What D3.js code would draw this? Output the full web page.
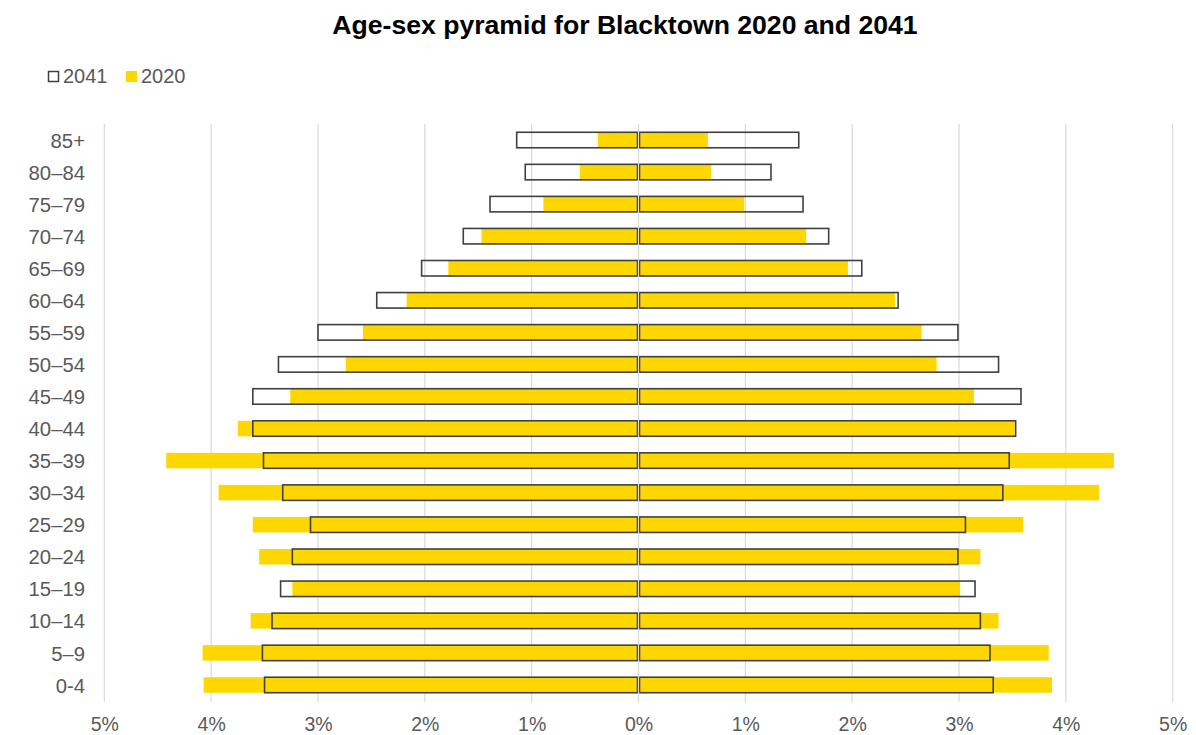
<!DOCTYPE html>
<html>
<head>
<meta charset="utf-8">
<script src="https://cdn.jsdelivr.net/npm/d3@7"></script>
<style>
  html, body { margin: 0; padding: 0; background: #ffffff; }
  svg { display: block; font-family: "Liberation Sans", Arial, sans-serif; }
</style>
</head>
<body>
<svg id="chart" width="1196" height="735"></svg>
<script>
// Age groups, bottom to top
const ageGroups = ["0-4", "5–9", "10–14", "15–19", "20–24", "25–29", "30–34", "35–39", "40–44",
                   "45–49", "50–54", "55–59", "60–64", "65–69", "70–74", "75–79", "80–84", "85+"];
// Left side (percent of population)
const left2020 = [4.07, 4.08, 3.63, 3.24, 3.55, 3.61, 3.93, 4.42, 3.75, 3.26, 2.74, 2.58, 2.17, 1.78, 1.47, 0.89, 0.55, 0.38];
const left2041 = [3.50, 3.52, 3.43, 3.35, 3.24, 3.07, 3.33, 3.51, 3.61, 3.61, 3.37, 3.00, 2.45, 2.03, 1.64, 1.39, 1.06, 1.14];
// Right side (percent of population)
const right2020 = [3.87, 3.84, 3.37, 3.01, 3.20, 3.60, 4.31, 4.45, 3.52, 3.14, 2.79, 2.65, 2.40, 1.96, 1.57, 0.99, 0.68, 0.65];
const right2041 = [3.32, 3.29, 3.20, 3.15, 2.99, 3.06, 3.41, 3.47, 3.53, 3.58, 3.37, 2.99, 2.43, 2.09, 1.78, 1.54, 1.24, 1.50];
// Axis ticks
const xTicks = [-5, -4, -3, -2, -1, 0, 1, 2, 3, 4, 5];
const seriesNames = ["2041", "2020"];
const titleText = "Age-sex pyramid for Blacktown 2020 and 2041";

const svg = d3.select("#chart");
const textColor = "#595959";
const gold = "#FFD700";
const outline = "#404040";

const x = d3.scaleLinear().domain([-5, 5]).range([104.3, 1172.7]);
const y = d3.scalePoint().domain(ageGroups.slice().reverse()).range([124, 701]).padding(0.5);
const barH = 15.5;

// Title
svg.append("text")
  .attr("x", 625).attr("y", 33.5)
  .attr("text-anchor", "middle")
  .attr("font-weight", "bold")
  .attr("font-size", "26.6px")
  .attr("fill", "#000")
  .text(titleText);

// Legend
const leg = svg.append("g");
leg.append("rect").attr("x", 48.5).attr("y", 71.5).attr("width", 10).attr("height", 10)
  .attr("fill", "#fff").attr("stroke", outline).attr("stroke-width", 1.5);
leg.append("text").attr("x", 63).attr("y", 82.5).attr("font-size", "20px").attr("fill", textColor).text(seriesNames[0]);
leg.append("rect").attr("x", 126).attr("y", 71).attr("width", 11).attr("height", 11).attr("fill", gold);
leg.append("text").attr("x", 141).attr("y", 82.5).attr("font-size", "20px").attr("fill", textColor).text(seriesNames[1]);

// Gridlines
svg.append("g").selectAll("line").data(xTicks).join("line")
  .attr("x1", d => x(d)).attr("x2", d => x(d))
  .attr("y1", 124).attr("y2", 702)
  .attr("stroke", "#d9d9d9").attr("stroke-width", 1.2);

// X axis labels
const xAxis = d3.axisBottom(x).tickValues(xTicks).tickSize(0).tickPadding(0)
  .tickFormat(d => Math.abs(d) + "%");
const xg = svg.append("g").attr("transform", "translate(0,717)").call(xAxis);
xg.select(".domain").remove();
xg.selectAll("text").attr("font-size", "19.5px").attr("fill", textColor)
  .attr("font-family", "Liberation Sans, Arial, sans-serif").attr("dy", "0.71em");

// Y axis labels
const yAxis = d3.axisLeft(y).tickSize(0).tickPadding(0);
const yg = svg.append("g").attr("transform", "translate(85,0)").call(yAxis);
yg.select(".domain").remove();
yg.selectAll("text").attr("font-size", "20.3px").attr("fill", textColor)
  .attr("font-family", "Liberation Sans, Arial, sans-serif").attr("dy", "0.35em");

// 2020 filled bars
const rows = ageGroups.map((a, i) => ({ age: a, l20: left2020[i], l41: left2041[i], r20: right2020[i], r41: right2041[i] }));
const bars = svg.append("g");
bars.selectAll("rect.l20").data(rows).join("rect").attr("class", "l20")
  .attr("x", d => x(-d.l20)).attr("width", d => x(0) - x(-d.l20))
  .attr("y", d => y(d.age) - barH / 2).attr("height", barH).attr("fill", gold);
bars.selectAll("rect.r20").data(rows).join("rect").attr("class", "r20")
  .attr("x", x(0)).attr("width", d => x(d.r20) - x(0))
  .attr("y", d => y(d.age) - barH / 2).attr("height", barH).attr("fill", gold);

// 2041 outlined bars
bars.selectAll("rect.l41").data(rows).join("rect").attr("class", "l41")
  .attr("x", d => x(-d.l41)).attr("width", d => x(0) - x(-d.l41) - 1)
  .attr("y", d => y(d.age) - barH / 2).attr("height", barH)
  .attr("fill", "none").attr("stroke", outline).attr("stroke-width", 1.6);
bars.selectAll("rect.r41").data(rows).join("rect").attr("class", "r41")
  .attr("x", x(0) + 1).attr("width", d => x(d.r41) - x(0) - 1)
  .attr("y", d => y(d.age) - barH / 2).attr("height", barH)
  .attr("fill", "none").attr("stroke", outline).attr("stroke-width", 1.6);

// Center gridline on top
svg.append("line").attr("x1", x(0)).attr("x2", x(0)).attr("y1", 124).attr("y2", 702)
  .attr("stroke", "#d9d9d9").attr("stroke-width", 1.2);
</script>
</body>
</html>
